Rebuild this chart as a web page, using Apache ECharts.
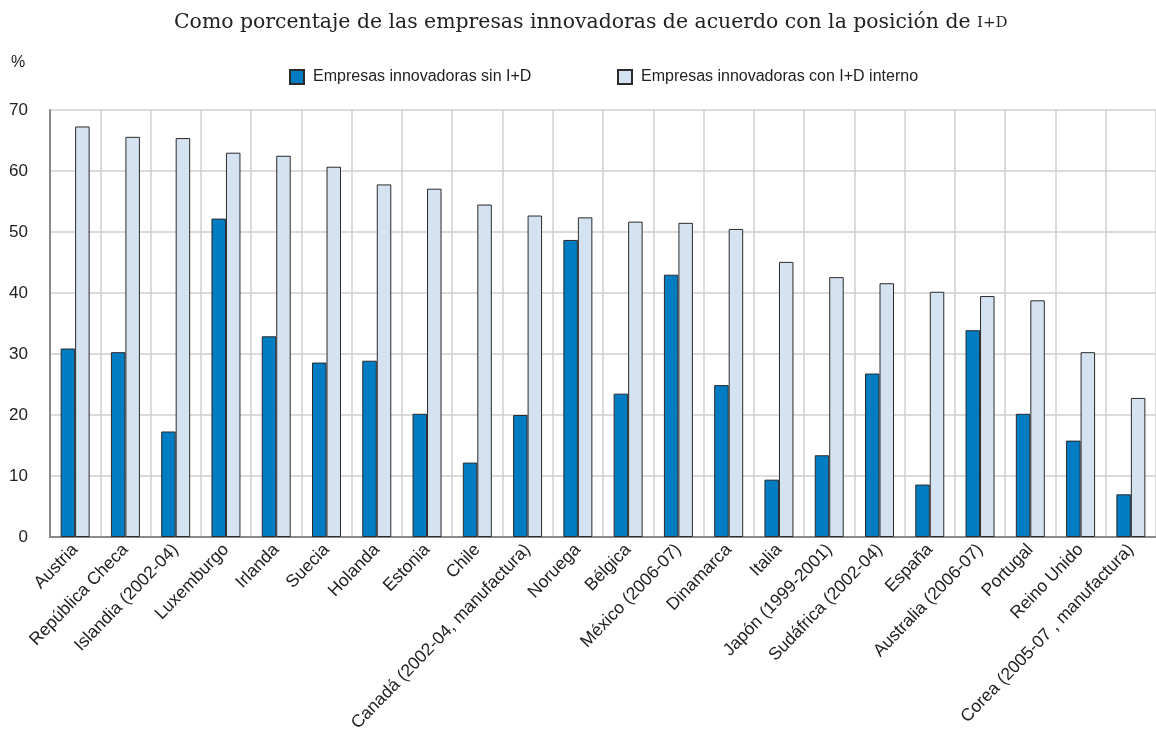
<!DOCTYPE html>
<html><head><meta charset="utf-8">
<script src="https://cdn.jsdelivr.net/npm/echarts@6/dist/echarts.min.js"></script>
<style>html,body{margin:0;padding:0;background:#fff}#c{width:1156px;height:744px}</style>
</head><body><div id="c"></div>
<script>
const categories = ["Austria","República Checa","Islandia (2002-04)","Luxemburgo","Irlanda","Suecia","Holanda","Estonia","Chile","Canadá (2002-04, manufactura)","Noruega","Bélgica","México (2006-07)","Dinamarca","Italia","Japón (1999-2001)","Sudáfrica (2002-04)","España","Australia (2006-07)","Portugal","Reino Unido","Corea (2005-07 , manufactura)"];
const sinID = [30.9,30.3,17.3,52.2,32.9,28.6,28.9,20.2,12.2,20.0,48.7,23.5,43.0,24.9,9.4,13.4,26.8,8.6,33.9,20.2,15.8,7.0];
const conID = [67.3,65.6,65.4,63.0,62.5,60.7,57.8,57.1,54.5,52.7,52.4,51.7,51.5,50.5,45.1,42.6,41.6,40.2,39.5,38.8,30.3,22.8];
const seriesNames = ["Empresas innovadoras sin I+D","Empresas innovadoras con I+D interno"];
const yTicks = [0,10,20,30,40,50,60,70];

const FONT = '"Liberation Sans Narrow","Liberation Sans",Arial,sans-serif';
const chart = echarts.init(document.getElementById('c'), null, {renderer:'canvas'});
chart.setOption({
  animation:false,
  title:{
    text:'Como porcentaje de las empresas innovadoras de acuerdo con la posición de {sc|I+D}',
    left:169, top:8,
    textStyle:{fontFamily:'"DejaVu Serif",serif', fontSize:20.4, fontWeight:'normal', color:'#222',
      rich:{sc:{fontFamily:'"DejaVu Serif",serif', fontSize:15, color:'#222'}}}
  },
  legend:[
    {data:[seriesNames[0]], left:284, top:64, itemWidth:14, itemHeight:14, itemGap:10, icon:'rect',
     textStyle:{fontFamily:FONT, fontSize:16, color:'#222', padding:[0,0,0,4]}},
    {data:[seriesNames[1]], left:612, top:64, itemWidth:14, itemHeight:14, itemGap:10, icon:'rect',
     textStyle:{fontFamily:FONT, fontSize:16, color:'#222', padding:[0,0,0,4]}}
  ],
  graphic:[{type:'text', left:11, top:55, style:{text:'%', font:'16px '+FONT, fill:'#222'}}],
  grid:{left:50, top:110, width:1114.7, height:427, containLabel:false},
  xAxis:{
    type:'category', data:categories,
    axisLine:{lineStyle:{color:'#8a8a8a', width:2}},
    axisTick:{show:false},
    splitLine:{show:true, interval:0, lineStyle:{color:'#cfcfcf', width:1.5}},
    axisLabel:{interval:0, rotate:46, fontFamily:FONT, fontSize:17.5, color:'#222', margin:10}
  },
  yAxis:{
    type:'value', min:0, max:70, interval:10,
    axisLine:{show:true, lineStyle:{color:'#8a8a8a', width:2}},
    axisTick:{show:false},
    splitLine:{lineStyle:{color:'#cfcfcf', width:1.5}},
    axisLabel:{fontFamily:FONT, fontSize:17, color:'#222', margin:22,
      formatter:v=>yTicks.includes(v)?String(v):''}
  },
  series:[
    {name:seriesNames[0], type:'bar', data:sinID, barWidth:14.5, barGap:'0%',
     itemStyle:{color:'#007cc3', borderColor:'#2b2b2b', borderWidth:1}},
    {name:seriesNames[1], type:'bar', data:conID, barWidth:14.5, barGap:'0%',
     itemStyle:{color:'#d5e2f2', borderColor:'#2b2b2b', borderWidth:1}}
  ]
});
</script></body></html>
